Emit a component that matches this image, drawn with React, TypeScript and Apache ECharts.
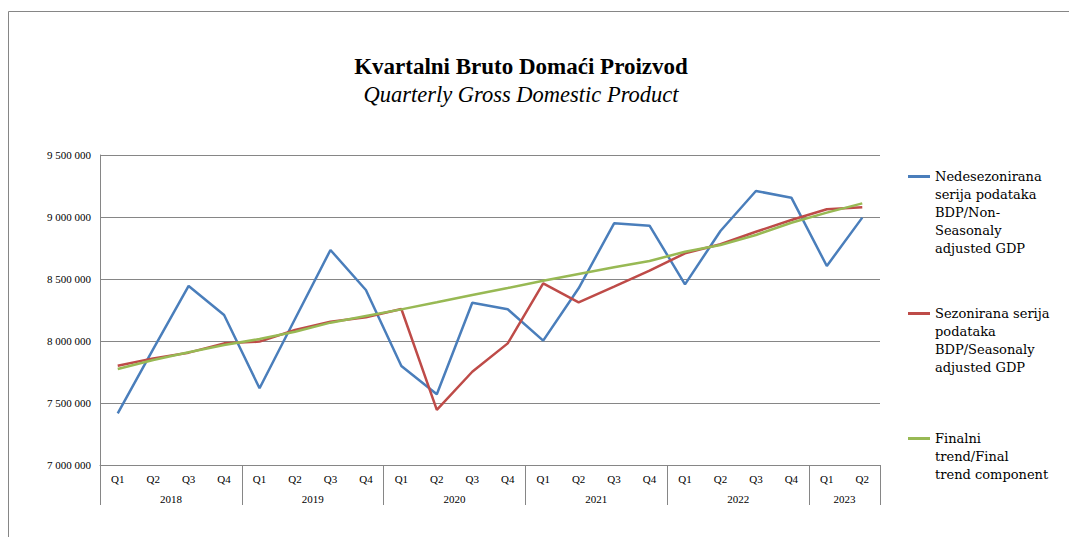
import React, { useEffect, useRef } from 'react';
import * as echarts from 'echarts';

const quarters = [
  'Q1', 'Q2', 'Q3', 'Q4',
  'Q1', 'Q2', 'Q3', 'Q4',
  'Q1', 'Q2', 'Q3', 'Q4',
  'Q1', 'Q2', 'Q3', 'Q4',
  'Q1', 'Q2', 'Q3', 'Q4',
  'Q1', 'Q2',
];
const years = ['2018', '2019', '2020', '2021', '2022', '2023'];
const quartersPerYear = [4, 4, 4, 4, 4, 2];

const nonSeasonal = [
  7417000, 7935000, 8444000, 8210000,
  7619000, 8177000, 8734000, 8411000,
  7798000, 7570000, 8309000, 8256000,
  8003000, 8425000, 8949000, 8930000,
  8457000, 8887000, 9210000, 9156000,
  8605000, 8995000,
];
const seasonal = [
  7800000, 7860000, 7906000, 7981000,
  7995000, 8089000, 8156000, 8191000,
  8258000, 7444000, 7752000, 7981000,
  8465000, 8312000, 8438000, 8567000,
  8707000, 8780000, 8881000, 8976000,
  9062000, 9078000,
];
const trend = [
  7774000, 7847000, 7909000, 7968000,
  8016000, 8075000, 8148000, 8202000,
  8255000, 8312000, 8371000, 8427000,
  8486000, 8540000, 8594000, 8645000,
  8720000, 8774000, 8855000, 8954000,
  9035000, 9110000,
];

const seriesNames = [
  'Nedesezonirana\nserija podataka\nBDP/Non-\nSeasonaly\nadjusted GDP',
  'Sezonirana serija\npodataka\nBDP/Seasonaly\nadjusted GDP',
  'Finalni\ntrend/Final\ntrend component',
];
const seriesColors = ['#4A7EBB', '#BE4B48', '#98B954'];

const serif = "'Liberation Serif', 'Times New Roman', serif";
const legendFont = "'DejaVu Serif', serif";
const grey = '#868686';

export default function App() {
  const ref = useRef<HTMLDivElement>(null);

  useEffect(() => {
    document.body.style.margin = '0';
    const chart = echarts.init(ref.current!, null, { renderer: 'svg' });

    const yearAt: Record<number, string> = {};
    let acc = 0;
    quartersPerYear.forEach((n, i) => {
      yearAt[acc + n / 2] = years[i];
      acc += n;
    });
    const boundaries = new Set<number>();
    acc = 0;
    quartersPerYear.forEach((n) => {
      boundaries.add(acc);
      acc += n;
    });

    const LH = 18;
    const legendCenters = [175, 312, 437];
    const legends = seriesNames.map((name, i) => {
      const n = name.split('\n').length;
      return {
        data: [name],
        left: 908,
        top: legendCenters[i] - ((2 * n - 1) * LH) / 2 + 1.5,
        orient: 'vertical',
        padding: 0,
        itemWidth: 22,
        itemHeight: 3,
        icon: 'rect',
        selectedMode: false,
        formatter: (nm: string) => '\n'.repeat(n - 1) + nm,
        textStyle: {
          fontFamily: legendFont,
          fontSize: 13,
          lineHeight: LH,
          color: '#000',
        },
      };
    });

    const fmt = (v: number) =>
      String(v).replace(/\B(?=(\d{3})+(?!\d))/g, ' ');

    chart.setOption({
      animation: false,
      backgroundColor: '#fff',
      title: {
        text: 'Kvartalni Bruto Domaći Proizvod',
        subtext: 'Quarterly Gross Domestic Product',
        left: 516,
        top: 50,
        textAlign: 'center',
        itemGap: 5,
        textStyle: {
          fontFamily: serif,
          fontSize: 23,
          fontWeight: 'bold',
          color: '#000',
        },
        subtextStyle: {
          fontFamily: serif,
          fontSize: 22.5,
          fontStyle: 'italic',
          color: '#000',
        },
      },
      legend: legends,
      graphic: [
        {
          type: 'rect',
          silent: true,
          shape: { x: 8.5, y: 11.5, width: 1100, height: 600 },
          style: { fill: 'none', stroke: grey, lineWidth: 1 },
        },
      ],
      grid: { left: 100, right: 189, top: 155, bottom: 72, containLabel: false },
      xAxis: [
        {
          type: 'category',
          data: quarters,
          boundaryGap: true,
          axisLine: { show: true, lineStyle: { color: grey, width: 1 } },
          axisTick: {
            show: true,
            length: 40,
            interval: (index: number) => boundaries.has(index),
            lineStyle: { color: grey, width: 1 },
          },
          axisLabel: {
            interval: 0,
            margin: 8,
            fontFamily: serif,
            fontSize: 11,
            color: '#000',
          },
          splitLine: { show: false },
        },
        {
          type: 'value',
          position: 'bottom',
          min: 0,
          max: quarters.length,
          interval: 1,
          axisLine: { show: false },
          axisTick: { show: false },
          splitLine: { show: false },
          axisLabel: {
            margin: 28,
            fontFamily: serif,
            fontSize: 11,
            color: '#000',
            formatter: (v: number) => yearAt[v] ?? '',
          },
        },
      ],
      yAxis: {
        type: 'value',
        min: 7000000,
        max: 9500000,
        interval: 500000,
        axisLine: { show: true, lineStyle: { color: grey, width: 1 } },
        axisTick: { show: false },
        splitLine: { show: true, lineStyle: { color: grey, width: 1 } },
        axisLabel: {
          margin: 9,
          fontFamily: serif,
          fontSize: 11,
          color: '#000',
          formatter: fmt,
        },
      },
      series: [nonSeasonal, seasonal, trend].map((d, i) => ({
        type: 'line',
        name: seriesNames[i],
        data: d,
        xAxisIndex: 0,
        yAxisIndex: 0,
        symbol: 'none',
        showSymbol: false,
        lineStyle: { color: seriesColors[i], width: 2.5 },
        itemStyle: { color: seriesColors[i] },
        z: 2 + i,
      })),
    });

    return () => chart.dispose();
  }, []);

  return <div ref={ref} style={{ width: 1069, height: 537 }} />;
}
